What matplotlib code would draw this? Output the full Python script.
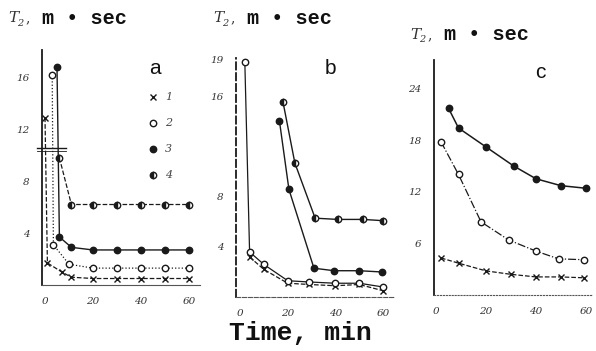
import matplotlib
matplotlib.use("Agg")
import matplotlib.pyplot as plt

# ---------------- data ----------------
x_ticks = [0, 20, 40, 60]
a_yticks = [4, 8, 12, 16]
b_yticks = [4, 8, 16, 19]
c_yticks = [6, 12, 18, 24]

# panel a
a_t1 = [0, 1, 7, 11, 20, 30, 40, 50, 60]
a_y1 = [12.9, 1.7, 1.0, 0.6, 0.5, 0.5, 0.5, 0.5, 0.5]
a_t2 = [3, 3.5, 10, 20, 30, 40, 50, 60]
a_y2 = [16.2, 3.1, 1.6, 1.3, 1.3, 1.3, 1.3, 1.3]
a_t3 = [5, 6, 11, 20, 30, 40, 50, 60]
a_y3 = [16.8, 3.7, 2.9, 2.7, 2.7, 2.7, 2.7, 2.7]
a_t4 = [6, 11, 20, 30, 40, 50, 60]
a_y4 = [9.8, 6.2, 6.2, 6.2, 6.2, 6.2, 6.2]

# panel b
b_t1 = [4, 10, 20, 29, 40, 50, 60]
b_y1 = [3.2, 2.2, 1.1, 1.0, 0.9, 1.0, 0.5]
b_t2 = [2, 4, 10, 20, 29, 40, 50, 60]
b_y2 = [18.8, 3.6, 2.6, 1.3, 1.2, 1.1, 1.1, 0.8]
b_t3 = [16.5, 20.5, 31, 39.5, 50, 59.5]
b_y3 = [14.1, 8.6, 2.3, 2.1, 2.1, 2.0]
b_t4 = [18, 23, 31.5, 41, 51.5, 60]
b_y4 = [15.6, 10.7, 6.3, 6.2, 6.2, 6.1]

# panel c
c_t1 = [2, 9, 20, 30, 40, 50, 59]
c_y1 = [4.3, 3.7, 2.8, 2.4, 2.1, 2.1, 2.0]
c_t2 = [2, 9, 18, 29, 40, 49, 59]
c_y2 = [17.8, 14.0, 8.5, 6.4, 5.1, 4.2, 4.1]
c_t3 = [5, 9, 20, 31, 40, 50, 60]
c_y3 = [21.7, 19.4, 17.2, 15.0, 13.5, 12.7, 12.4]

legend_labels = ["1", "2", "3", "4"]

# ---------------- figure ----------------
W, H = 596, 351
fig = plt.figure(figsize=(W / 100, H / 100), dpi=100)
fig.patch.set_facecolor("white")

ink = "#1a1a1a"
tickfont = dict(family="DejaVu Serif", style="italic", size=7.5, color="#333333")


def px_axes(x0, y0, x1, y1):
    # pixel box (left, top, right, bottom) -> axes
    return fig.add_axes([x0 / W, 1 - y1 / H, (x1 - x0) / W, (y1 - y0) / H])


def style_axes(ax, xlim, ylim, yticks, bottom_ls="-"):
    ax.set_xlim(*xlim)
    ax.set_ylim(*ylim)
    ax.set_xticks(x_ticks)
    ax.set_yticks(yticks)
    ax.set_xticklabels([str(v) for v in x_ticks], **tickfont)
    ax.set_yticklabels([str(v) for v in yticks], **tickfont)
    ax.tick_params(length=0, pad=9)
    for s in ("top", "right"):
        ax.spines[s].set_visible(False)
    ax.spines["left"].set_color(ink)
    ax.spines["left"].set_linewidth(1.3)
    ax.spines["bottom"].set_color("#555555")
    ax.spines["bottom"].set_linewidth(0.8)
    ax.spines["bottom"].set_linestyle(bottom_ls)
    ax.patch.set_alpha(0)


mk = dict(color=ink, markersize=4.6, markeredgewidth=1.0)
kw_x = dict(marker="x", markeredgecolor=ink, **mk)
kw_open = dict(marker="o", markerfacecolor="white", markeredgecolor=ink, **mk)
kw_fill = dict(marker="o", markerfacecolor=ink, markeredgecolor=ink, **mk)
kw_half = dict(marker="o", fillstyle="left", markerfacecoloralt="white",
               markerfacecolor=ink, markeredgecolor=ink, **mk)

# ---- panel a ----
axa = px_axes(42, 50, 200, 285)
style_axes(axa, (-1.25, 64.6), (0, 18.1), a_yticks)
axa.plot(a_t1, a_y1, ls="--", lw=0.9, **kw_x)
axa.plot(a_t2, a_y2, ls=":", lw=0.9, **kw_open)
axa.plot(a_t3, a_y3, ls="-", lw=1.0, **kw_fill)
axa.plot(a_t4, a_y4, ls="--", lw=0.9, **kw_half)
# axis break mark
axa.plot([-0.03, 0.15], [0.585, 0.585], transform=axa.transAxes, color=ink,
         lw=1.0, clip_on=False)
axa.plot([-0.03, 0.15], [0.57, 0.57], transform=axa.transAxes, color=ink,
         lw=0.6, clip_on=False)
# legend
leg_kws = [kw_x, kw_open, kw_fill, kw_half]
for i, (lab, kw) in enumerate(zip(legend_labels, leg_kws)):
    yy = 0.80 - i * 0.11
    axa.plot([0.70], [yy], transform=axa.transAxes, ls="none", clip_on=False, **kw)
    axa.text(0.78, yy, lab, transform=axa.transAxes, va="center", ha="left",
             family="DejaVu Serif", style="italic", size=8, color="#444444")

# ---- panel b ----
axb = px_axes(236, 58, 395, 297)
style_axes(axb, (-1.7, 65), (0, 19.1), b_yticks, bottom_ls="--")
axb.spines["left"].set_linestyle((0, (4, 2)))
axb.plot(b_t1, b_y1, ls="--", lw=0.9, **kw_x)
axb.plot(b_t2, b_y2, ls="-", lw=0.9, **kw_open)
axb.plot(b_t3, b_y3, ls="-", lw=1.0, **kw_fill)
axb.plot(b_t4, b_y4, ls="-", lw=1.0, **kw_half)

# ---- panel c ----
axc = px_axes(434, 60, 592, 295)
style_axes(axc, (-0.8, 62.4), (0, 27.3), c_yticks, bottom_ls=":")
axc.plot(c_t1, c_y1, ls="--", lw=0.9, **kw_x)
axc.plot(c_t2, c_y2, ls="-.", lw=0.9, **kw_open)
axc.plot(c_t3, c_y3, ls="-", lw=1.1, **kw_fill)

# ---- titles ----
mono = dict(family="Liberation Mono", weight="bold", color="#111111")
for x, y, lab_x, letter in [(8, 18, 155, "a"), (213, 18, 330, "b"), (410, 35, 540, "c")]:
    fig.text(x / W, 1 - y / H, "T", family="DejaVu Serif", style="italic",
             size=11, color="#333333", va="center", ha="left")
    fig.text((x + 9) / W, 1 - (y + 5) / H, "2", family="DejaVu Serif", style="italic",
             size=7, color="#333333", va="center", ha="left")
    fig.text((x + 17) / W, 1 - y / H, ",", family="DejaVu Serif",
             size=10, color="#333333", va="center", ha="left")
    fig.text((x + 34) / W, 1 - y / H, "m • sec", size=14.5, va="center", ha="left", **mono)
    fig.text(lab_x / W, 1 - (68 if letter != "c" else 72) / H, letter,
             family="Liberation Sans", size=15, color="#111111",
             va="center", ha="center")

fig.text(300 / W, 1 - 333 / H, "Time, min", size=19, va="center", ha="center", **mono)

fig.savefig("out.png", dpi=100)
